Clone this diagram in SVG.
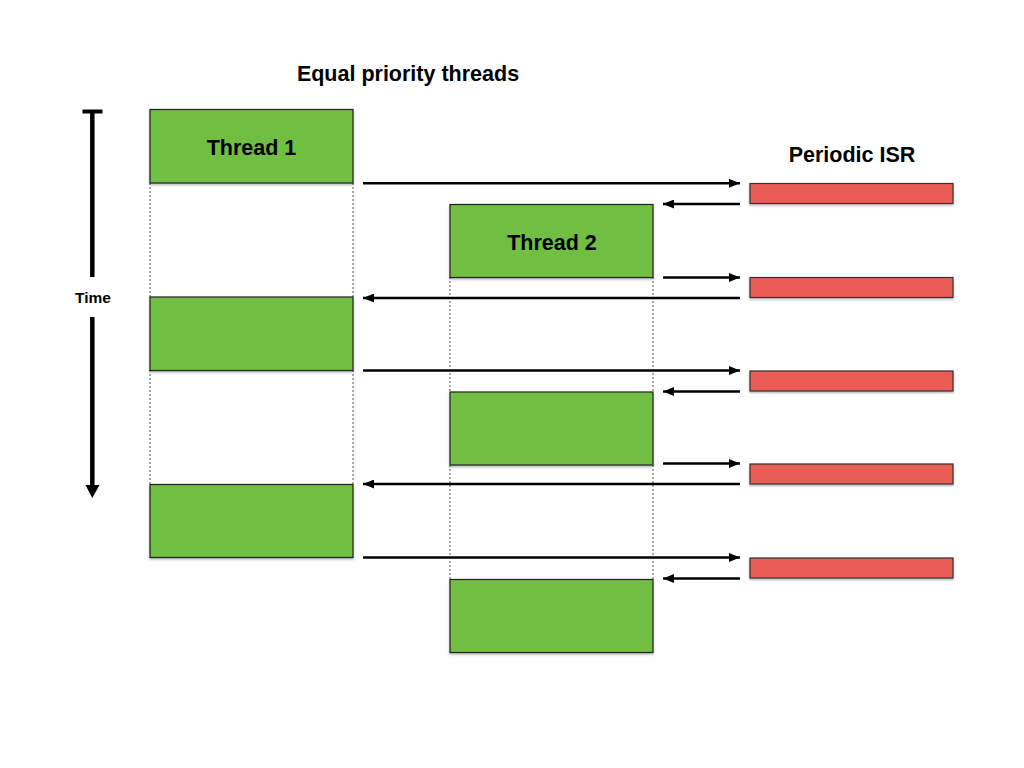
<svg xmlns="http://www.w3.org/2000/svg" width="1024" height="768" viewBox="0 0 1024 768">
<defs>
<filter id="sh" x="-5%" y="-5%" width="110%" height="120%">
<feDropShadow dx="0" dy="1.5" stdDeviation="1" flood-color="#000" flood-opacity="0.3"/>
</filter>
<marker id="ah" viewBox="0 0 11 9" refX="11" refY="4.5" markerWidth="11" markerHeight="9" markerUnits="userSpaceOnUse" orient="auto">
<path d="M0,0 L11,4.5 L0,9 Z" fill="#000"/>
</marker>
</defs>
<style>
.t{fill:#70bf43;stroke:#222;stroke-width:1.2;filter:url(#sh)}
.r{fill:#eb5b56;stroke:#333;stroke-width:1.2;filter:url(#sh)}
.lbl{font-family:"Liberation Sans",Arial,sans-serif;font-weight:bold;fill:#000}
.dot{stroke:#555;stroke-width:1;stroke-dasharray:2,2;fill:none}
.a{stroke:#000;stroke-width:2.6;fill:none;marker-end:url(#ah)}
</style>
<rect width="1024" height="768" fill="#fff"/>
<text class="lbl" x="408" y="81" font-size="21.5" text-anchor="middle">Equal priority threads</text>
<text class="lbl" x="852" y="162" font-size="21.5" text-anchor="middle">Periodic ISR</text>
<g id="timeaxis">
<line x1="82.5" y1="111.5" x2="102.5" y2="111.5" stroke="#000" stroke-width="4"/>
<line x1="92.3" y1="110" x2="92.3" y2="277" stroke="#000" stroke-width="4.5"/>
<line x1="92.3" y1="317" x2="92.3" y2="486" stroke="#000" stroke-width="4.5"/>
<path d="M85.5,485 L99.5,485 L92.3,498 Z" fill="#000"/>
<text class="lbl" x="93" y="303" font-size="15.5" text-anchor="middle">Time</text>
</g>
<g id="dotted">
<line class="dot" x1="150" y1="183" x2="150" y2="297"/>
<line class="dot" x1="353" y1="183" x2="353" y2="297"/>
<line class="dot" x1="150" y1="370" x2="150" y2="485"/>
<line class="dot" x1="353" y1="370" x2="353" y2="485"/>
<line class="dot" x1="450" y1="277" x2="450" y2="392"/>
<line class="dot" x1="653" y1="277" x2="653" y2="392"/>
<line class="dot" x1="450" y1="465" x2="450" y2="579"/>
<line class="dot" x1="653" y1="465" x2="653" y2="579"/>
</g>
<g id="thread1-a"><rect class="t" x="150" y="109.5" width="203" height="73.5"/><text class="lbl" x="251.5" y="154.5" font-size="21.5" text-anchor="middle">Thread 1</text></g>
<g id="thread1-b"><rect class="t" x="150" y="297" width="203" height="73.5"/></g>
<g id="thread1-c"><rect class="t" x="150" y="484.5" width="203" height="73"/></g>
<g id="thread2-a"><rect class="t" x="450" y="204.5" width="203" height="73"/><text class="lbl" x="552" y="249.5" font-size="21.5" text-anchor="middle">Thread 2</text></g>
<g id="thread2-b"><rect class="t" x="450" y="392" width="203" height="73"/></g>
<g id="thread2-c"><rect class="t" x="450" y="579.5" width="203" height="73"/></g>
<g id="isr1"><rect class="r" x="750" y="183.5" width="203" height="20"/></g>
<g id="isr2"><rect class="r" x="750" y="277.5" width="203" height="20"/></g>
<g id="isr3"><rect class="r" x="750" y="371" width="203" height="20"/></g>
<g id="isr4"><rect class="r" x="750" y="464" width="203" height="20"/></g>
<g id="isr5"><rect class="r" x="750" y="558" width="203" height="20"/></g>
<g id="connectors">
<line class="a" x1="363" y1="183.3" x2="740" y2="183.3"/>
<line class="a" x1="740" y1="204" x2="663" y2="204"/>
<line class="a" x1="663" y1="277.5" x2="740" y2="277.5"/>
<line class="a" x1="740" y1="298" x2="363" y2="298"/>
<line class="a" x1="363" y1="370.5" x2="740" y2="370.5"/>
<line class="a" x1="740" y1="391.5" x2="663" y2="391.5"/>
<line class="a" x1="663" y1="463.5" x2="740" y2="463.5"/>
<line class="a" x1="740" y1="484" x2="363" y2="484"/>
<line class="a" x1="363" y1="557.5" x2="740" y2="557.5"/>
<line class="a" x1="740" y1="578.5" x2="663" y2="578.5"/>
</g>
</svg>
